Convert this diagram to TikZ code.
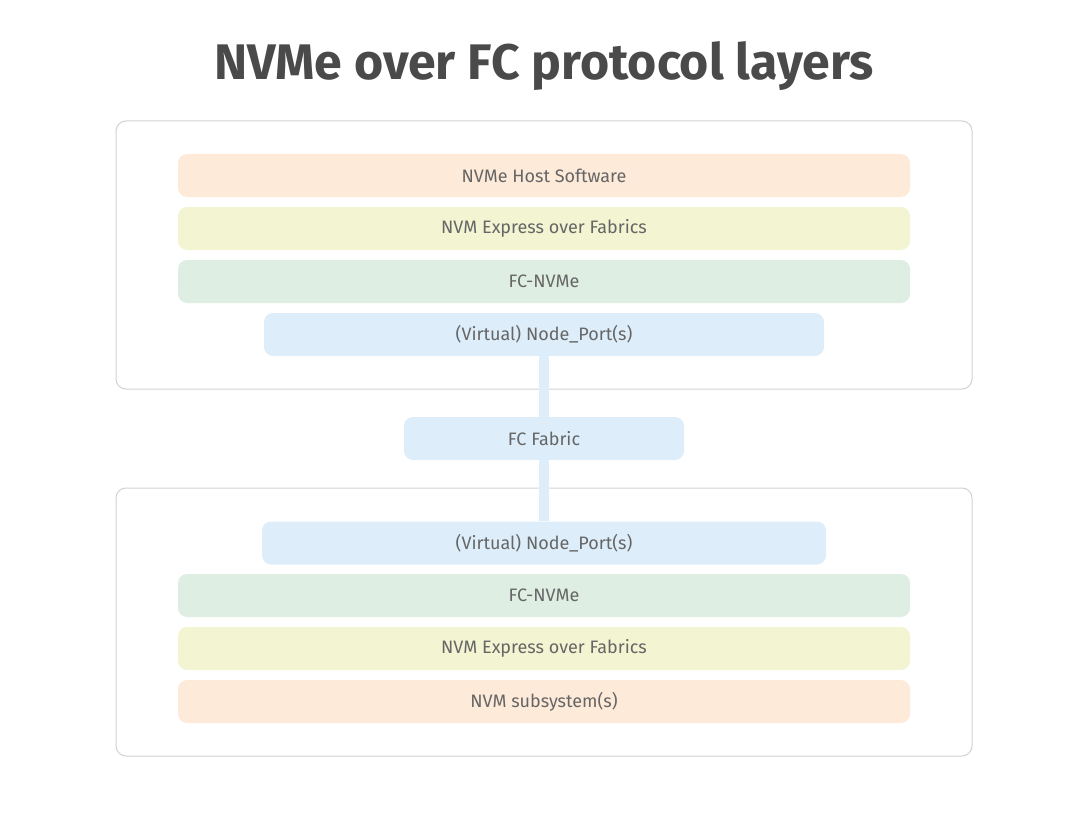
\documentclass[tikz,border=0pt]{standalone}
\usepackage{fontspec}
\setmainfont{Fira Sans}
\definecolor{borang}{HTML}{FDEAD9}
\definecolor{byel}{HTML}{F2F4D2}
\definecolor{bgreen}{HTML}{DFEEE3}
\definecolor{bblue}{HTML}{DDEEFA}
\definecolor{tgray}{HTML}{666666}
\definecolor{title}{HTML}{4A4A4A}
\begin{document}
\begin{tikzpicture}[x=1pt,y=-1pt,
  bar/.style={rounded corners=9pt, minimum height=43pt, inner sep=0pt, text=tgray, font=\fontsize{18}{20}\selectfont},
  outer/.style={draw=black!18, line width=1pt, rounded corners=10pt}]
\useasboundingbox (0,0) rectangle (1091,813);
\node[font=\fontsize{50}{56}\bfseries\selectfont, text=title] (t) at (544,66) {NVMe over FC protocol layers};
\draw[outer] (116,121) rectangle (972,389);
\draw[outer] (116,488) rectangle (972,756);
\draw[bblue, line width=10pt] (544,356) -- (544,521);
\node[bar, fill=borang, minimum width=732pt] (a1) at (544,175.5) {NVMe Host Software};
\node[bar, fill=byel, minimum width=732pt] (a2) at (544,228.5) {NVM Express over Fabrics};
\node[bar, fill=bgreen, minimum width=732pt] (a3) at (544,281.5) {FC-NVMe};
\node[bar, fill=bblue, minimum width=560pt] (a4) at (544,334.5) {(Virtual) Node\_Port(s)};
\node[bar, fill=bblue, minimum width=280pt] (f) at (544,438.5) {FC Fabric};
\node[bar, fill=bblue, minimum width=564pt] (b4) at (544,543) {(Virtual) Node\_Port(s)};
\node[bar, fill=bgreen, minimum width=732pt] (b3) at (544,595.5) {FC-NVMe};
\node[bar, fill=byel, minimum width=732pt] (b2) at (544,648.5) {NVM Express over Fabrics};
\node[bar, fill=borang, minimum width=732pt] (b1) at (544,701.5) {NVM subsystem(s)};
\end{tikzpicture}
\end{document}
